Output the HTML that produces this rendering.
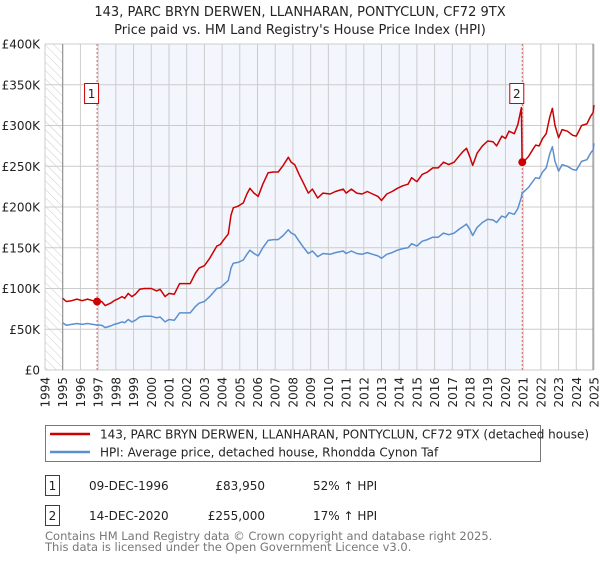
<!DOCTYPE html>
<html><head><meta charset="utf-8"><style>
body{margin:0;background:#fff;font-family:"DejaVu Sans","Liberation Sans",sans-serif;}
svg text{font-family:"DejaVu Sans","Liberation Sans",sans-serif;}
</style></head><body>
<svg id="c" width="600" height="560" xmlns="http://www.w3.org/2000/svg">
<defs><pattern id="hatch" width="6" height="6" patternUnits="userSpaceOnUse" patternTransform="rotate(-45)"><line x1="0" y1="0" x2="0" y2="6" stroke="#ccc" stroke-width="1"/></pattern></defs>
<text x="300" y="16" text-anchor="middle" font-size="13" fill="#222">143, PARC BRYN DERWEN, LLANHARAN, PONTYCLUN, CF72 9TX</text>
<text x="300" y="34" text-anchor="middle" font-size="13" fill="#222">Price paid vs. HM Land Registry's House Price Index (HPI)</text>
<g id="plot"></g>
<g>
<rect x="45.5" y="425.5" width="495" height="36" fill="#fff" stroke="#777"/>
<line x1="50" y1="434" x2="90" y2="434" stroke="#cc0000" stroke-width="2.5"/>
<text x="100" y="438.5" font-size="12" fill="#222">143, PARC BRYN DERWEN, LLANHARAN, PONTYCLUN, CF72 9TX (detached house)</text>
<line x1="50" y1="452" x2="90" y2="452" stroke="#5b8fd0" stroke-width="2.5"/>
<text x="100" y="456.5" font-size="12" fill="#222">HPI: Average price, detached house, Rhondda Cynon Taf</text>
</g>
<g font-size="12" fill="#222">
<rect x="45.5" y="475.5" width="14" height="20" fill="#fff" stroke="#cc0000"/>
<text x="52.5" y="490" text-anchor="middle">1</text>
<text x="89" y="490">09-DEC-1996</text>
<text x="265" y="490" text-anchor="end">£83,950</text>
<text x="313" y="490">52% ↑ HPI</text>
<rect x="45.5" y="505.5" width="14" height="20" fill="#fff" stroke="#cc0000"/>
<text x="52.5" y="520" text-anchor="middle">2</text>
<text x="89" y="520">14-DEC-2020</text>
<text x="265" y="520" text-anchor="end">£255,000</text>
<text x="313" y="520">17% ↑ HPI</text>
</g>
<text x="45" y="540" font-size="11.5" fill="#777">Contains HM Land Registry data © Crown copyright and database right 2025.</text>
<text x="45" y="551" font-size="11.5" fill="#777">This data is licensed under the Open Government Licence v3.0.</text>
</svg>
<script>
const years=[1995.0,1995.2,1995.5,1995.8,1996.1,1996.4,1996.7,1996.94,1997.2,1997.4,1997.7,1997.9,1998.1,1998.35,1998.5,1998.7,1998.9,1999.1,1999.35,1999.6,2000.0,2000.3,2000.5,2000.78,2001.0,2001.3,2001.6,2001.9,2002.2,2002.5,2002.7,2003.0,2003.3,2003.7,2003.9,2004.1,2004.35,2004.5,2004.63,2004.9,2005.2,2005.4,2005.57,2005.8,2006.04,2006.3,2006.6,2006.9,2007.17,2007.45,2007.74,2007.9,2008.1,2008.35,2008.58,2008.87,2009.1,2009.4,2009.7,2010.1,2010.4,2010.84,2011.0,2011.3,2011.6,2011.9,2012.2,2012.5,2012.8,2013.0,2013.3,2013.6,2013.9,2014.2,2014.5,2014.7,2015.0,2015.3,2015.6,2015.9,2016.2,2016.5,2016.8,2017.1,2017.4,2017.6,2017.8,2018.0,2018.15,2018.4,2018.7,2019.0,2019.3,2019.5,2019.8,2020.0,2020.2,2020.5,2020.7,2020.9,2020.94,2021.0,2021.3,2021.5,2021.7,2021.9,2022.1,2022.3,2022.5,2022.65,2022.8,2023.0,2023.2,2023.5,2023.8,2024.0,2024.3,2024.6,2024.8,2024.95,2025.0];
const hpiValues=[58,55,56,57,56,57,56,55.2,55,52,54,56,57,59,58,62,59,61,65,66,66,64,65,59,62,61,70,70,70,78,82,84,90,100,101,105,110,125,131,132,135,142,147,143,140,150,159,160,160,165,172,168,166,158,151,143,146,139,143,142,144,146,143,146,143,142,144,142,140,137,142,144,147,149,150,155,152,158,160,163,163,168,166,168,173,176,179,172,165,175,181,185,184,181,189,187,193,191,198,212,218,218,224,230,236,235,243,248,265,274,256,244,252,250,246,245,256,258,266,270,278];
const propertyValues=[88,84,85,87,85,87,85,84,84,79,82,85,87,90,88,94,90,93,99,100,100,97,99,90,94,93,106,106,106,119,125,128,137,152,154,160,167,190,199,201,205,216,223,217,213,228,242,243,243,251,261,255,252,240,230,217,222,211,217,216,219,222,217,222,217,216,219,216,213,208,216,219,223,226,228,236,231,240,243,248,248,255,252,255,263,268,272,261,251,266,275,281,280,275,287,284,293,290,301,322,255,255,262,269,276,275,284,290,310,321,300,285,295,293,288,287,300,302,311,316,325];
const saleYears=[1996.94,2020.95];
const salePrices=[83.95,255];
const saleLabels=["1","2"];
const yTicks=[0,50,100,150,200,250,300,350,400];
const yTickLabels=["£0","£50K","£100K","£150K","£200K","£250K","£300K","£350K","£400K"];
const NS="http://www.w3.org/2000/svg";
const L=45,R=594,T=44,B=370,Y0=1994,Y1=2025;
const xs=y=>L+(y-Y0)/(Y1-Y0)*(R-L);
const ys=v=>B-v/400*(B-T);
const g=document.getElementById('plot');
function mk(tag,a,p){const e=document.createElementNS(NS,tag);for(const k in a)e.setAttribute(k,a[k]);(p||g).appendChild(e);return e;}
let e;
e=mk('rect',{x:L,y:T,width:R-L,height:B-T,fill:'#fff'});


e=mk('rect',{x:xs(1997),y:T,width:xs(saleYears[1])-xs(1997),height:B-T,fill:'#f3f6fd'});


e=mk('rect',{x:L,y:T,width:xs(1995)-L,height:B-T,fill:'url(#hatch)'});


for(let y=Y0;y<=Y1;y++){
 e=mk('line',{x1:xs(y),y1:T,x2:xs(y),y2:B,stroke:'#ccc','stroke-width':1});
 
 
 const t=mk('text',{x:0,y:0,'font-size':12,fill:'#222','text-anchor':'end',transform:`translate(${xs(y)+4.5},377) rotate(-90)`});
 t.textContent=String(y);
 
 
}
yTicks.forEach((v,i)=>{
 e=mk('line',{x1:L,y1:ys(v),x2:R,y2:ys(v),stroke:'#ccc','stroke-width':1});
 
 
 const t=mk('text',{x:40,y:ys(v)+4.5,'font-size':12,fill:'#222','text-anchor':'end'});
 t.textContent=yTickLabels[i];
 
 
});
e=mk('line',{x1:xs(1995),y1:T,x2:xs(1995),y2:B,stroke:'#888','stroke-width':1});


e=mk('line',{x1:R-1,y1:T,x2:R-1,y2:B,stroke:'#888','stroke-width':1});


saleYears.forEach((sy,i)=>{
 e=mk('line',{x1:xs(sy),y1:T,x2:xs(sy),y2:B,stroke:'#e06060','stroke-width':1,'stroke-dasharray':'2,2'});
 
 
});
function path(vals){return vals.map((v,i)=>(i?'L':'M')+xs(years[i]).toFixed(1)+','+ys(v).toFixed(1)).join('');}
e=mk('path',{d:path(hpiValues),fill:'none',stroke:'#5b8fd0','stroke-width':1.5,'stroke-linejoin':'round'});


e=mk('path',{d:path(propertyValues),fill:'none',stroke:'#cc0000','stroke-width':1.5,'stroke-linejoin':'round'});


saleYears.forEach((sy,i)=>{
 e=mk('circle',{cx:xs(sy),cy:ys(salePrices[i]),r:4,fill:'#cc0000'});
 
 
 e=mk('rect',{x:xs(sy)-12.5,y:83.5,width:14,height:20,fill:'#fff',stroke:'#cc0000'});
 
 
 const t=mk('text',{x:xs(sy)-5.5,y:98,'font-size':12,fill:'#222','text-anchor':'middle'});
 t.textContent=saleLabels[i];
 
 
});
</script>
</body></html>
